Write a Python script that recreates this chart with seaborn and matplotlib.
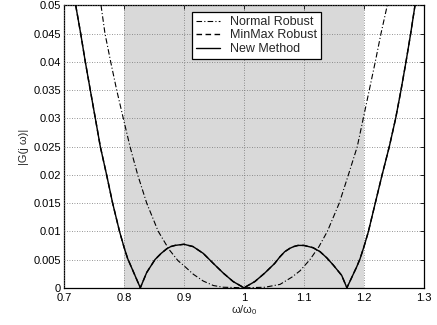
import matplotlib
matplotlib.use("Agg")
import matplotlib.pyplot as plt
import seaborn as sns
import pandas as pd

# ---- data ----
normal_x = [0.7617, 0.7683, 0.7778, 0.7878, 0.7988, 0.81, 0.8228, 0.8378, 0.857, 0.875,
            0.89, 0.9, 0.9155, 0.932, 0.949, 0.9655, 1.0, 1.035, 1.06, 1.08,
            1.0933, 1.1, 1.11, 1.125, 1.139, 1.1588, 1.174, 1.1888, 1.1988, 1.2088,
            1.2188, 1.2283, 1.2388]
normal_y = [0.05, 0.045, 0.04, 0.035, 0.03, 0.025, 0.02, 0.015, 0.01, 0.0068,
            0.0048, 0.0039, 0.0024, 0.0012, 0.0004, 0.0001, 0.0, 0.0001, 0.0006, 0.0019,
            0.003, 0.0038, 0.005, 0.0073, 0.01, 0.015, 0.02, 0.025, 0.03, 0.035,
            0.04, 0.045, 0.05]

new_x = [0.7195, 0.7278, 0.7355, 0.7438, 0.7522, 0.7605, 0.771, 0.781, 0.7925, 0.8,
         0.806, 0.8272, 0.8378, 0.845, 0.8517, 0.862, 0.8712, 0.878, 0.885, 0.892,
         0.9, 0.915, 0.932, 0.949, 0.9655, 0.982, 1.0, 1.018, 1.0345, 1.051,
         1.06, 1.068, 1.0767, 1.083, 1.09, 1.1, 1.115, 1.1267, 1.138, 1.149,
         1.1628, 1.1715, 1.1878, 1.1933, 1.2, 1.2072, 1.2188, 1.2302, 1.2422, 1.2528,
         1.2617, 1.27, 1.2778, 1.285]
new_y = [0.05, 0.045, 0.04, 0.035, 0.03, 0.025, 0.02, 0.015, 0.01, 0.0072,
         0.0052, 0.0, 0.0027, 0.0039, 0.005, 0.0061, 0.0069, 0.0073, 0.0075, 0.0076,
         0.0077, 0.0073, 0.0061, 0.0043, 0.0026, 0.0011, 0.0, 0.0011, 0.0026, 0.0043,
         0.0055, 0.0064, 0.0070, 0.0073, 0.0075, 0.0075, 0.0071, 0.0064, 0.0053, 0.0040,
         0.0022, 0.0, 0.0037, 0.0051, 0.0073, 0.0099, 0.015, 0.02, 0.025, 0.03,
         0.035, 0.04, 0.045, 0.05]

minmax_x = list(new_x)
minmax_y = list(new_y)

series_names = ["Normal Robust", "MinMax Robust", "New Method"]
band = [0.8, 1.2]
x_ticks = [0.7, 0.8, 0.9, 1.0, 1.1, 1.2, 1.3]
x_tick_labels = ["0.7", "0.8", "0.9", "1", "1.1", "1.2", "1.3"]
y_ticks = [0, 0.005, 0.01, 0.015, 0.02, 0.025, 0.03, 0.035, 0.04, 0.045, 0.05]
y_tick_labels = ["0", "0.005", "0.01", "0.015", "0.02", "0.025", "0.03", "0.035",
                 "0.04", "0.045", "0.05"]

# ---- style ----
sns.set_style("white")
plt.rcParams["font.family"] = ["Liberation Sans", "DejaVu Sans"]
plt.rcParams["mathtext.fontset"] = "custom"
plt.rcParams["mathtext.rm"] = "Liberation Sans"
plt.rcParams["mathtext.it"] = "Liberation Sans"

fig = plt.figure(figsize=(4.37, 3.25), dpi=100)
ax = fig.add_axes([64 / 437, (325 - 287.8) / 325, 360 / 437, 282.5 / 325])

ax.axvspan(band[0], band[1], color="#d9d9d9", zorder=0, lw=0)

styles = [(0, (5, 2, 1, 2)), (0, (4, 2.5)), "-"]
widths = [0.8, 1.0, 1.0]
data = [(normal_x, normal_y), (minmax_x, minmax_y), (new_x, new_y)]
for (xs, ys), name, ls, lw in zip(data, series_names, styles, widths):
    df = pd.DataFrame({"x": xs, "y": ys})
    sns.lineplot(data=df, x="x", y="y", ax=ax, estimator=None, sort=False,
                 color="black", lw=lw, linestyle=ls, label=name, zorder=3)

ax.set_xlim(0.7, 1.3)
ax.set_ylim(0, 0.05)
ax.set_xticks(x_ticks)
ax.set_xticklabels(x_tick_labels)
ax.set_yticks(y_ticks)
ax.set_yticklabels(y_tick_labels)
ax.tick_params(direction="in", length=3, width=0.6, labelsize=8, pad=2,
               top=True, right=True, colors="black")
ax.tick_params(axis="x", pad=4)
ax.grid(True, linestyle=(0, (1, 2)), color="0.45", lw=0.6, zorder=1)
ax.set_axisbelow(False)
for s in ax.spines.values():
    s.set_visible(True)
    s.set_color("black")
    s.set_linewidth(0.9)

ax.set_xlabel("ω/ω$_0$", fontsize=8, labelpad=0)
ax.set_ylabel("|G(j ω)|", fontsize=8, labelpad=3)

leg = ax.legend(loc="upper left", bbox_to_anchor=(0.355, 0.978), fontsize=9,
                frameon=True, fancybox=False, framealpha=1, edgecolor="black",
                handlelength=1.9, handletextpad=0.8, borderpad=0.35,
                labelspacing=0.12, borderaxespad=0)
leg.get_frame().set_linewidth(0.9)

fig.savefig("out.png", dpi=100)
